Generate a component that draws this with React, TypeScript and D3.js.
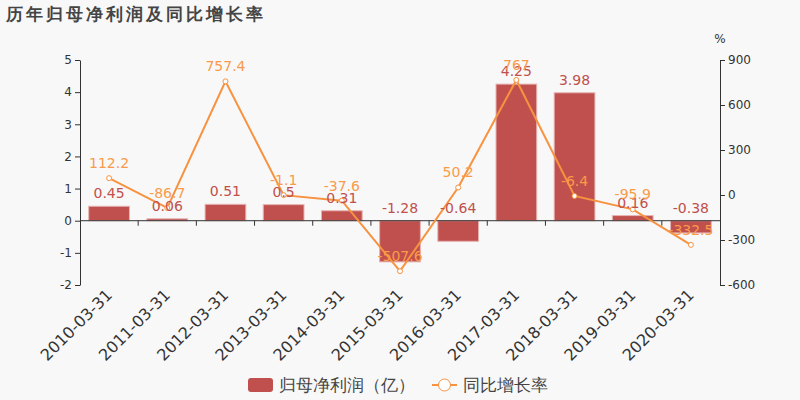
import React, { useEffect, useRef } from "react";
import * as d3 from "d3";

const categories = [
  "2010-03-31", "2011-03-31", "2012-03-31", "2013-03-31", "2014-03-31", "2015-03-31",
  "2016-03-31", "2017-03-31", "2018-03-31", "2019-03-31", "2020-03-31",
];
const profit = [0.45, 0.06, 0.51, 0.5, 0.31, -1.28, -0.64, 4.25, 3.98, 0.16, -0.38];
const growth = [112.2, -86.7, 757.4, -1.1, -37.6, -507.6, 50.2, 767, -6.4, -95.9, -332.5];
const leftTicks = [-2, -1, 0, 1, 2, 3, 4, 5];
const rightTicks = [-600, -300, 0, 300, 600, 900];

const FONT = "'DejaVu Sans', sans-serif";

export default function App() {
  const svgRef = useRef<SVGSVGElement>(null);

  useEffect(() => {
    document.body.style.margin = "0";
    if (!svgRef.current) return;
    const C = {
      bg: "#f8f8f8",
      bar: "#c0504d",
      barStroke: "#e6b3b2",
      line: "#f79240",
      lineText: "#f99b4a",
      axis: "#333333",
      text: "#444444",
    };

    const W = 800, H = 400;
    const left = 80, right = 720, top = 60, bottom = 285;

    const svg = d3.select(svgRef.current).attr("width", W).attr("height", H);
    svg.selectAll("*").remove();
    svg.append("rect").attr("width", W).attr("height", H).attr("fill", C.bg);

    const x = d3.scaleBand<string>().domain(categories).range([left, right]).padding(0);
    const yL = d3.scaleLinear().domain([-2, 5]).range([bottom, top]);
    const yR = d3.scaleLinear().domain([-600, 900]).range([bottom, top]);
    const bw = x.bandwidth() * 0.7;
    const cx = (c: string) => (x(c) ?? 0) + x.bandwidth() / 2;

    // Title
    svg.append("text").attr("x", 6).attr("y", 20)
      .style("font-family", FONT).style("font-size", "17px").style("font-weight", "bold")
      .style("letter-spacing", "3px").attr("fill", C.text).text("历年归母净利润及同比增长率");

    // Left axis
    const gL = svg.append("g").attr("transform", `translate(${left},0)`)
      .call(d3.axisLeft(yL).tickValues(leftTicks).tickSize(5).tickSizeOuter(0).tickFormat(d => `${d}`));
    gL.select(".domain").attr("stroke", C.axis);
    gL.selectAll("line").attr("stroke", C.axis);
    gL.selectAll("text").attr("fill", C.axis).style("font-size", "12px").style("font-family", FONT);

    // Right axis
    const gR = svg.append("g").attr("transform", `translate(${right},0)`)
      .call(d3.axisRight(yR).tickValues(rightTicks).tickSize(5).tickSizeOuter(0).tickFormat(d => `${d}`));
    gR.select(".domain").attr("stroke", C.axis);
    gR.selectAll("line").attr("stroke", C.axis);
    gR.selectAll("text").attr("fill", C.axis).style("font-size", "12px").style("font-family", FONT);

    svg.append("text").attr("x", right).attr("y", 43).attr("text-anchor", "middle")
      .style("font-family", FONT).style("font-size", "12px").attr("fill", C.axis).text("%");

    // Bars
    svg.append("g").selectAll("rect").data(categories).join("rect")
      .attr("x", c => cx(c) - bw / 2)
      .attr("y", (c, i) => Math.min(yL(profit[i]), yL(0)))
      .attr("width", bw)
      .attr("height", (c, i) => Math.abs(yL(profit[i]) - yL(0)))
      .attr("fill", C.bar).attr("stroke", C.barStroke).attr("stroke-width", 1);

    // X axis at zero
    const y0 = yL(0);
    svg.append("line").attr("x1", left).attr("x2", right).attr("y1", y0).attr("y2", y0).attr("stroke", C.axis);
    categories.forEach(c => {
      const bx = x(c) ?? 0;
      if (bx > left) {
        svg.append("line").attr("x1", bx).attr("x2", bx).attr("y1", y0).attr("y2", y0 + 5).attr("stroke", C.axis);
      }
    });
    categories.forEach(c => {
      const px = cx(c) + 4, py = 296;
      svg.append("text").attr("transform", `translate(${px},${py}) rotate(-45)`)
        .attr("text-anchor", "end").style("font-family", FONT).style("font-size", "16px")
        .attr("fill", C.axis).text(c);
    });

    // Growth line
    const line = d3.line<number>().x((d, i) => cx(categories[i])).y(d => yR(d));
    svg.append("path").datum(growth).attr("fill", "none").attr("stroke", C.line)
      .attr("stroke-width", 2).attr("d", line);
    svg.append("g").selectAll("circle").data(growth).join("circle")
      .attr("cx", (d, i) => cx(categories[i])).attr("cy", d => yR(d)).attr("r", 2.5)
      .attr("fill", "#ffffff").attr("stroke", C.line).attr("stroke-width", 1);

    // Bar labels
    svg.append("g").selectAll("text").data(profit).join("text")
      .attr("x", (d, i) => cx(categories[i]))
      .attr("y", d => Math.min(yL(d), y0) - 8)
      .attr("text-anchor", "middle").style("font-family", FONT).style("font-size", "14px")
      .attr("fill", C.bar).text(d => `${d}`);

    // Line labels
    svg.append("g").selectAll("text").data(growth).join("text")
      .attr("x", (d, i) => cx(categories[i]))
      .attr("y", d => yR(d) - 10)
      .attr("text-anchor", "middle").style("font-family", FONT).style("font-size", "14px")
      .attr("fill", C.lineText).text(d => `${d}`);

    // Legend
    svg.append("rect").attr("x", 248).attr("y", 378).attr("width", 25).attr("height", 14).attr("rx", 3)
      .attr("fill", C.bar);
    svg.append("text").attr("x", 279).attr("y", 391).style("font-family", FONT).style("font-size", "17px")
      .attr("fill", C.text).text("归母净利润（亿）");
    svg.append("line").attr("x1", 432).attr("x2", 457).attr("y1", 385).attr("y2", 385)
      .attr("stroke", C.line).attr("stroke-width", 2);
    svg.append("circle").attr("cx", 444.5).attr("cy", 385).attr("r", 6)
      .attr("fill", "#ffffff").attr("stroke", C.line).attr("stroke-width", 1);
    svg.append("text").attr("x", 463).attr("y", 391).style("font-family", FONT).style("font-size", "17px")
      .attr("fill", C.text).text("同比增长率");
  }, []);

  return <svg ref={svgRef} style={{ display: "block" }}></svg>;
}
